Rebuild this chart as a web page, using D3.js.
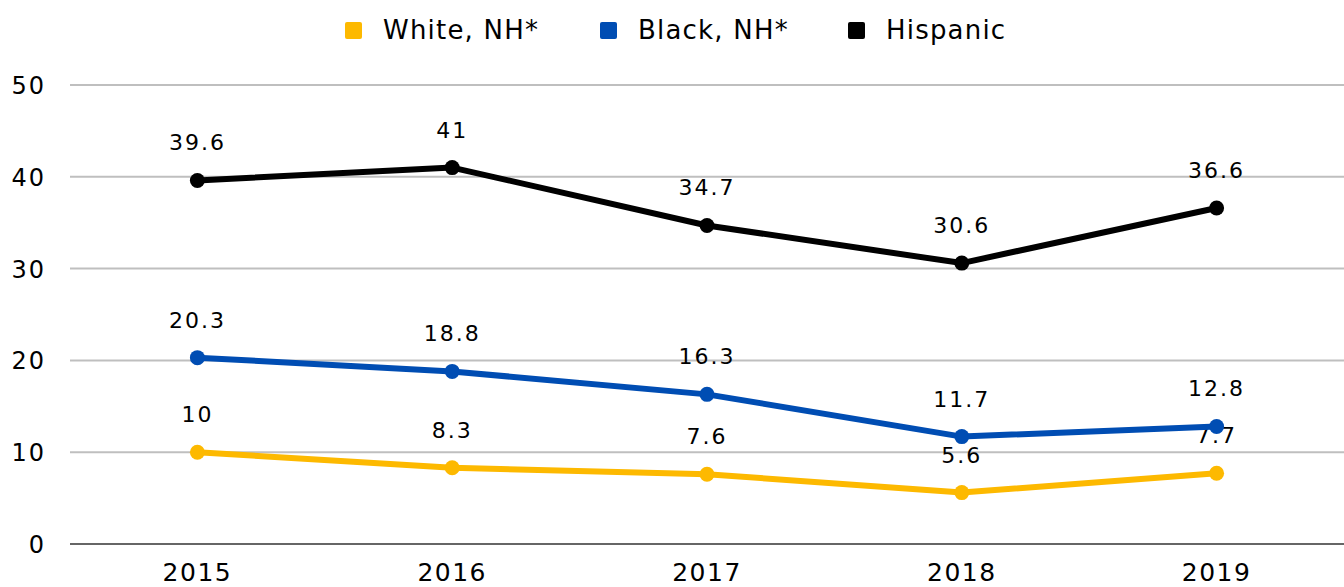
<!DOCTYPE html>
<html>
<head>
<meta charset="utf-8">
<script src="https://cdn.jsdelivr.net/npm/d3@7"></script>
<style>
  body { margin: 0; background: #fff; }
  text { font-family: "DejaVu Sans", sans-serif; fill: #000; }
</style>
</head>
<body>
<div id="chart"></div>
<script>
var years = ['2015', '2016', '2017', '2018', '2019'];
var seriesNames = ['White, NH*', 'Black, NH*', 'Hispanic'];
var seriesColors = ['#FDB900', '#004DB3', '#000000'];
var white = [10, 8.3, 7.6, 5.6, 7.7];
var black = [20.3, 18.8, 16.3, 11.7, 12.8];
var hispanic = [39.6, 41, 34.7, 30.6, 36.6];
var yTicks = [0, 10, 20, 30, 40, 50];

var seriesValues = [white, black, hispanic];

var W = 1344, H = 587;
var margin = { top: 85, right: 0, bottom: 43, left: 70 };
var w = W - margin.left - margin.right,
    h = H - margin.top - margin.bottom;

var svg = d3.select('#chart').append('svg')
  .attr('width', W)
  .attr('height', H);

var g = svg.append('g')
  .attr('transform', 'translate(' + margin.left + ',' + margin.top + ')');

var x = d3.scaleBand().domain(years).range([0, w]);
var y = d3.scaleLinear().domain([0, 50]).range([h, 0]);

// gridlines
g.selectAll('.grid')
  .data(yTicks.filter(function(d) { return d > 0; }))
  .enter().append('line')
  .attr('x1', 0).attr('x2', w)
  .attr('y1', function(d) { return y(d); })
  .attr('y2', function(d) { return y(d); })
  .attr('stroke', '#BFBFBF')
  .attr('stroke-width', 2);

// baseline
g.append('line')
  .attr('x1', 0).attr('x2', w)
  .attr('y1', y(0)).attr('y2', y(0))
  .attr('stroke', '#666')
  .attr('stroke-width', 2);

// y axis labels
var yAxis = d3.axisLeft(y).tickValues(yTicks).tickSize(0).tickPadding(24);
g.append('g').call(yAxis)
  .call(function(s) { s.select('.domain').remove(); })
  .selectAll('text')
  .style('font-size', '24px')
  .style('letter-spacing', '2px')
  .attr('dy', '0.35em');

// x axis labels (cut by bottom edge, as in the original)
var xAxis = d3.axisBottom(x).tickSize(0).tickPadding(19);
g.append('g')
  .attr('transform', 'translate(0,' + h + ')')
  .call(xAxis)
  .call(function(s) { s.select('.domain').remove(); })
  .selectAll('text')
  .style('font-size', '25px')
  .style('letter-spacing', '1.5px');

var line = d3.line()
  .x(function(d, i) { return x(years[i]) + x.bandwidth() / 2; })
  .y(function(d) { return y(d); });

seriesValues.forEach(function(vals, k) {
  var sg = g.append('g');
  sg.append('path')
    .datum(vals)
    .attr('d', line)
    .attr('fill', 'none')
    .attr('stroke', seriesColors[k])
    .attr('stroke-width', 6)
    .attr('stroke-linejoin', 'round');
  sg.selectAll('circle')
    .data(vals)
    .enter().append('circle')
    .attr('cx', function(d, i) { return x(years[i]) + x.bandwidth() / 2; })
    .attr('cy', function(d) { return y(d); })
    .attr('r', 7.5)
    .attr('fill', seriesColors[k]);
  sg.selectAll('.lbl')
    .data(vals)
    .enter().append('text')
    .attr('x', function(d, i) { return x(years[i]) + x.bandwidth() / 2; })
    .attr('y', function(d) { return y(d) - 30; })
    .attr('text-anchor', 'middle')
    .style('font-size', '22px')
    .style('letter-spacing', '2px')
    .text(function(d) { return d; });
});

// legend
var legendX = [345, 600, 848];
var legend = svg.append('g');
seriesNames.forEach(function(name, k) {
  legend.append('rect')
    .attr('x', legendX[k]).attr('y', 22)
    .attr('width', 17).attr('height', 17)
    .attr('rx', 2)
    .attr('fill', seriesColors[k]);
  legend.append('text')
    .attr('x', legendX[k] + 38).attr('y', 30)
    .attr('dy', '0.35em')
    .style('font-size', '26px')
    .style('letter-spacing', '1.2px')
    .text(name);
});
</script>
</body>
</html>
